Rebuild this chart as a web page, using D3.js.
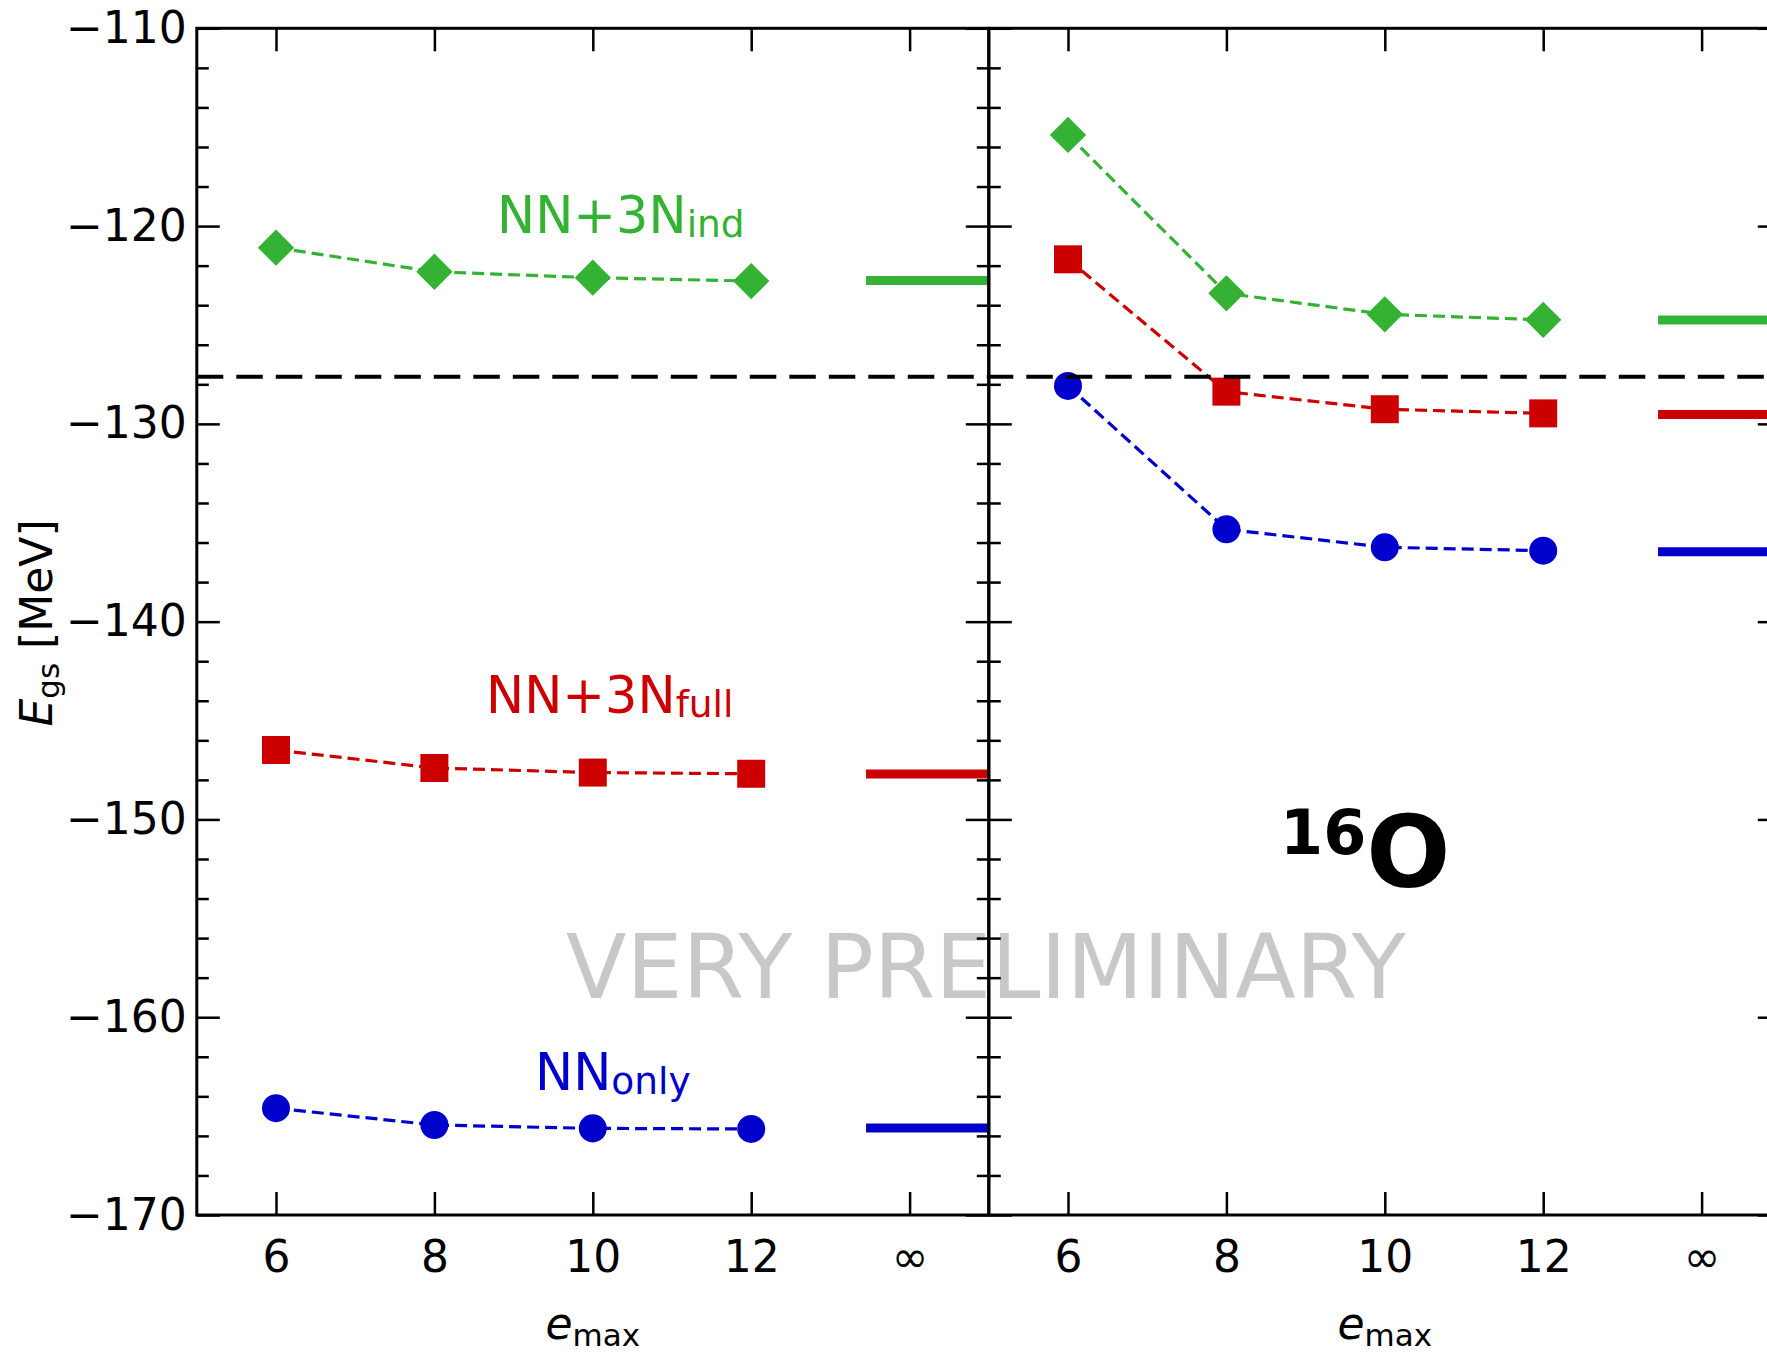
<!DOCTYPE html>
<html>
<head>
<meta charset="utf-8">
<script src="https://cdn.jsdelivr.net/npm/d3@7"></script>
<style>
  html, body { margin: 0; padding: 0; background: #fff; }
  svg { display: block; font-family: "DejaVu Sans", sans-serif; }
</style>
</head>
<body>
<svg id="chart" width="1767" height="1353"></svg>
<script>
// e_max values and tick labels
const emaxPoints = [6, 8, 10, 12];
const emaxTicks = [6, 8, 10, 12, 14];
const emaxTickLabels = ["6", "8", "10", "12", "∞"];
const infSpan = [13.45, 15];

// left panel ground-state energies (MeV)
const leftInd = [-121.09, -122.31, -122.61, -122.78];
const leftFull = [-146.49, -147.40, -147.63, -147.69];
const leftOnly = [-164.60, -165.45, -165.62, -165.65];
const leftInf = [-122.75, -147.70, -165.60];

// right panel ground-state energies (MeV)
const rightInd = [-115.39, -123.40, -124.46, -124.74];
const rightFull = [-121.68, -128.37, -129.26, -129.47];
const rightOnly = [-128.08, -135.33, -136.24, -136.41];
const rightInf = [-124.75, -129.53, -136.47];

const expEnergy = -127.62;

const colors = { ind: "#33b233", full: "#cc0000", only: "#0000cc" };
const markers = { ind: "diamond", full: "square", only: "circle" };

const svg = d3.select("#chart");

const yTop = 28.3, yBottom = 1215;
const panelW = 792;
const panelX = [196.8, 196.8 + panelW];

const y = d3.scaleLinear().domain([-170, -110]).range([yBottom, yTop]);
const xScales = panelX.map(x0 => d3.scaleLinear().domain([5, 15]).range([x0, x0 + panelW]));

// watermark goes first so the axes sit on it
svg.append("text")
  .attr("x", 566).attr("y", 998)
  .attr("font-size", 88.5)
  .attr("fill", "#c8c8c8")
  .text("VERY PRELIMINARY");

function drawSeries(x, values, infValue, key) {
  const g = svg.append("g");
  const pts = emaxPoints.map((e, i) => [e, values[i]]);

  g.append("path")
    .datum(pts)
    .attr("d", d3.line().x(d => x(d[0])).y(d => y(d[1])))
    .attr("fill", "none")
    .attr("stroke", colors[key])
    .attr("stroke-width", 3.2)
    .attr("stroke-dasharray", "12,6");

  let sym;
  if (markers[key] === "diamond") sym = d3.symbol(d3.symbolSquare, 660);
  else if (markers[key] === "square") sym = d3.symbol(d3.symbolSquare, 784);
  else sym = d3.symbol(d3.symbolCircle, 616);

  g.selectAll(".pt")
    .data(pts)
    .enter()
    .append("path")
    .attr("d", sym)
    .attr("transform", d => `translate(${x(d[0])},${y(d[1])})` + (markers[key] === "diamond" ? " rotate(45)" : ""))
    .attr("fill", colors[key]);

  // extrapolated value
  g.append("line")
    .attr("x1", x(infSpan[0])).attr("x2", x(infSpan[1]))
    .attr("y1", y(infValue)).attr("y2", y(infValue))
    .attr("stroke", colors[key])
    .attr("stroke-width", 9);
}

const keys = ["ind", "full", "only"];
[leftInd, leftFull, leftOnly].forEach((v, i) => drawSeries(xScales[0], v, leftInf[i], keys[i]));
[rightInd, rightFull, rightOnly].forEach((v, i) => drawSeries(xScales[1], v, rightInf[i], keys[i]));

// experimental value, across both panels
svg.append("line")
  .attr("x1", panelX[0]).attr("x2", panelX[1] + panelW)
  .attr("y1", y(expEnergy)).attr("y2", y(expEnergy))
  .attr("stroke", "#000")
  .attr("stroke-width", 4)
  .attr("stroke-dasharray", "26.5,13");

// axes
const majorY = d3.range(-170, -109, 10);
const minorY = d3.range(-170, -109, 2).filter(v => v % 10 !== 0);

function styleAxis(g, fontSize) {
  g.select(".domain").remove();
  g.selectAll(".tick line").attr("stroke", "#000").attr("stroke-width", 2.5);
  g.selectAll(".tick text").attr("fill", "#000").attr("font-size", fontSize).attr("font-family", "DejaVu Sans");
}

panelX.forEach((x0, p) => {
  const x = xScales[p];
  const x1 = x0 + panelW;

  // left side of panel
  svg.append("g").attr("transform", `translate(${x0},0)`)
    .call(d3.axisLeft(y).tickValues(majorY).tickSize(-23).tickPadding(10)
      .tickFormat(p === 0 ? d3.format("d") : ""))
    .call(g => styleAxis(g, 44));
  svg.append("g").attr("transform", `translate(${x0},0)`)
    .call(d3.axisLeft(y).tickValues(minorY).tickSize(-12).tickFormat(""))
    .call(g => styleAxis(g, 44));

  // right side of panel
  svg.append("g").attr("transform", `translate(${x1},0)`)
    .call(d3.axisRight(y).tickValues(majorY).tickSize(-23).tickFormat(""))
    .call(g => styleAxis(g, 44));
  svg.append("g").attr("transform", `translate(${x1},0)`)
    .call(d3.axisRight(y).tickValues(minorY).tickSize(-12).tickFormat(""))
    .call(g => styleAxis(g, 44));

  // bottom and top
  svg.append("g").attr("transform", `translate(0,${yBottom})`)
    .call(d3.axisBottom(x).tickValues(emaxTicks).tickSize(-23).tickPadding(26)
      .tickFormat((d, i) => emaxTickLabels[i]))
    .call(g => styleAxis(g, 44));
  svg.append("g").attr("transform", `translate(0,${yTop})`)
    .call(d3.axisTop(x).tickValues(emaxTicks).tickSize(-23).tickFormat(""))
    .call(g => styleAxis(g, 44));

  // frame
  svg.append("rect")
    .attr("x", x0).attr("y", yTop)
    .attr("width", panelW).attr("height", yBottom - yTop)
    .attr("fill", "none")
    .attr("stroke", "#000")
    .attr("stroke-width", 3);

  // x label
  const xl = svg.append("text")
    .attr("x", x0 + panelW / 2).attr("y", 1339)
    .attr("text-anchor", "middle")
    .attr("font-size", 44);
  xl.append("tspan").attr("font-style", "italic").text("e");
  xl.append("tspan").attr("font-size", 31).attr("dy", 7).text("max");
});

// y label
const yl = svg.append("text")
  .attr("transform", "translate(52,623) rotate(-90)")
  .attr("text-anchor", "middle")
  .attr("font-size", 44);
yl.append("tspan").attr("font-style", "italic").text("E");
yl.append("tspan").attr("font-size", 31).attr("dy", 7).text("gs");
yl.append("tspan").attr("dy", -7).text(" [MeV]");

// series labels
function seriesLabel(x0, y0, main, sub, color) {
  const t = svg.append("text")
    .attr("x", x0).attr("y", y0)
    .attr("font-size", 51)
    .attr("fill", color);
  t.append("tspan").text(main);
  t.append("tspan").attr("font-size", 37.5).attr("dy", 4).text(sub);
}
seriesLabel(497, 233, "NN+3N", "ind", colors.ind);
seriesLabel(486, 713, "NN+3N", "full", colors.full);
seriesLabel(535, 1090, "NN", "only", colors.only);

// nucleus label
const nuc = svg.append("text")
  .attr("x", 1280).attr("y", 887)
  .attr("font-weight", "bold")
  .attr("fill", "#000");
nuc.append("tspan").attr("font-size", 62).attr("dy", -33).text("16");
nuc.append("tspan").attr("font-size", 99).attr("dy", 33).text("O");
</script>
</body>
</html>
